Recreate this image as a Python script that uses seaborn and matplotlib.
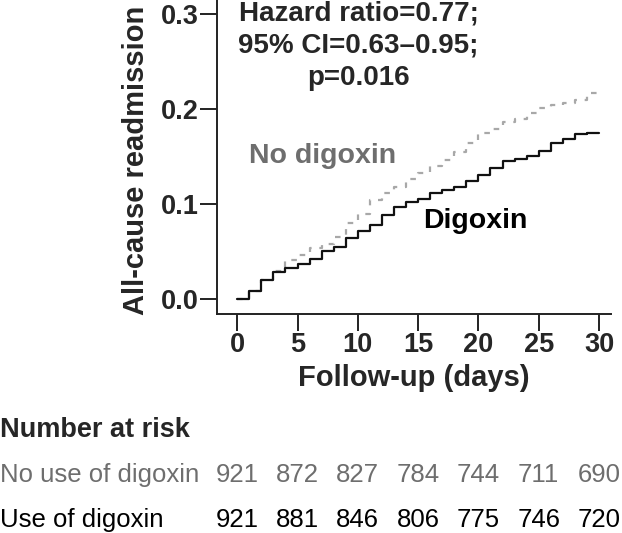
import numpy as np
import pandas as pd
import matplotlib
matplotlib.use("Agg")
import matplotlib.pyplot as plt
import matplotlib.transforms as mtransforms
import seaborn as sns

# Data
days = list(range(31))
digoxin = [0.0, 0.009, 0.020, 0.029, 0.033, 0.037, 0.042, 0.051, 0.055, 0.064,
           0.072, 0.078, 0.089, 0.097, 0.102, 0.106, 0.112, 0.115, 0.118, 0.124,
           0.131, 0.138, 0.146, 0.148, 0.151, 0.156, 0.164, 0.169, 0.174, 0.175,
           0.175]
no_digoxin = [0.0, 0.009, 0.020, 0.030, 0.041, 0.047, 0.054, 0.058, 0.066, 0.080,
              0.090, 0.104, 0.112, 0.118, 0.127, 0.133, 0.140, 0.147, 0.155, 0.164,
              0.175, 0.179, 0.187, 0.190, 0.196, 0.201, 0.204, 0.207, 0.210, 0.217,
              0.220]

risk_days = [0, 5, 10, 15, 20, 25, 30]
risk_no_use = [921, 872, 827, 784, 744, 711, 690]
risk_use = [921, 881, 846, 806, 775, 746, 720]

x_ticks = [0, 5, 10, 15, 20, 25, 30]
y_ticks = [0.0, 0.1, 0.2, 0.3]

df = pd.DataFrame({"day": days, "Digoxin": digoxin, "No digoxin": no_digoxin})

sns.set_style("ticks")
plt.rcParams["font.family"] = ["Liberation Sans", "DejaVu Sans"]

fig = plt.figure(figsize=(6.22, 5.33), dpi=100)
ax = fig.add_axes([0.3484, 0.4109, 0.634, 0.5891])

gray_line = "#a8a8a8"
gray_text = "#6e6e6e"

sns.lineplot(data=df, x="day", y="No digoxin", ax=ax, drawstyle="steps-post",
             color=gray_line, linewidth=1.6, linestyle=(0, (2.5, 3.5)))
sns.lineplot(data=df, x="day", y="Digoxin", ax=ax, drawstyle="steps-post",
             color="#111111", linewidth=1.6)

ax.set_xlim(-1.7, 31)
ax.set_ylim(-0.0155, 0.315)
ax.set_xticks(x_ticks)
ax.set_yticks(y_ticks)
ax.set_yticklabels([f"{v:.1f}" for v in y_ticks])
ax.tick_params(direction="out", length=12, width=1.4, color="#222222", pad=1,
               labelsize=19.5)
for lab in ax.get_xticklabels() + ax.get_yticklabels():
    lab.set_fontweight("bold")

for s in ["top", "right"]:
    ax.spines[s].set_visible(False)
for s in ["left", "bottom"]:
    ax.spines[s].set_linewidth(1.4)
    ax.spines[s].set_color("#222222")

ax.set_xlabel("Follow-up (days)", fontsize=21, fontweight="bold", labelpad=4)
ax.set_ylabel("All-cause readmission", fontsize=21, fontweight="bold")
ax.yaxis.set_label_coords(-0.17, 0.49)

ax.text(10.06, 0.314, "Hazard ratio=0.77;\n95% CI=0.63\u20130.95;\np=0.016",
        ha="center", va="top", fontsize=20, fontweight="bold", linespacing=1.3)
ax.text(0.97, 0.151, "No digoxin", ha="left", va="center", fontsize=20.5,
        fontweight="bold", color=gray_text)
ax.text(15.4, 0.0824, "Digoxin", ha="left", va="center", fontsize=20.5,
        fontweight="bold", color="black")

# Number at risk table
trans = mtransforms.blended_transform_factory(ax.transData, fig.transFigure)
fig.text(0.0, 1 - 437 / 533, "Number at risk", ha="left", va="baseline",
         fontsize=19.5, fontweight="bold")
fig.text(0.0, 1 - 482 / 533, "No use of digoxin", ha="left", va="baseline",
         fontsize=18.5, color=gray_text)
fig.text(0.0, 1 - 527 / 533, "Use of digoxin", ha="left", va="baseline",
         fontsize=18.5, color="black")
for d, a, b in zip(risk_days, risk_no_use, risk_use):
    ax.text(d, 1 - 482 / 533, str(a), transform=trans, ha="center",
            va="baseline", fontsize=18.5, color=gray_text, clip_on=False)
    ax.text(d, 1 - 527 / 533, str(b), transform=trans, ha="center",
            va="baseline", fontsize=18.5, color="black", clip_on=False)

fig.savefig("out.png", dpi=100)
